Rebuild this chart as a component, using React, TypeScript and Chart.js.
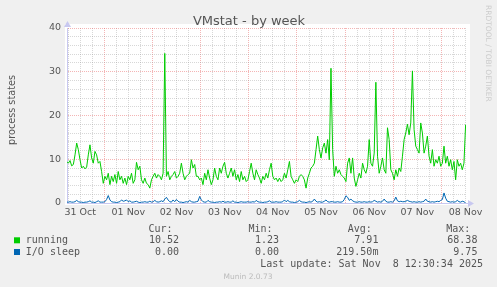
import React, { useEffect, useRef } from "react";
import { Chart, registerables } from "chart.js";

Chart.register(...registerables);

// Time axis: days after 31 Oct 00:00
const DAY_LABELS = ["31 Oct", "01 Nov", "02 Nov", "03 Nov", "04 Nov", "05 Nov", "06 Nov", "07 Nov", "08 Nov"];
const X_MIN_DAY = 0.225;
const X_MAX_DAY = 8.51;
const FIRST_SAMPLE_DAY = 0.21875;
const SAMPLE_MINUTES = 49.7;

const running = [
  9.5, 9.1, 9.7, 8.5, 8.8, 11.0, 13.7, 12.2, 9.9, 8.0,
  8.4, 7.8, 8.2, 11.0, 13.3, 10.3, 9.1, 11.8, 11.0, 9.1,
  9.5, 7.2, 4.5, 6.1, 5.3, 6.8, 4.2, 6.1, 4.9, 6.5,
  4.5, 7.2, 5.3, 6.1, 4.5, 5.7, 4.2, 6.1, 5.3, 6.8,
  4.5, 5.3, 9.3, 7.6, 8.4, 5.3, 4.5, 5.7, 4.5, 4.2,
  3.4, 5.3, 6.1, 6.8, 5.7, 6.5, 6.1, 5.3, 6.8, 34.2,
  6.1, 7.2, 5.3, 6.1, 6.5, 7.2, 5.7, 6.1, 6.8, 9.1,
  6.8, 5.3, 6.1, 6.5, 6.8, 9.9, 8.0, 8.8, 6.1,
  6.1, 5.3, 5.7, 4.2, 6.8, 5.3, 7.6, 5.7, 4.2, 5.3,
  8.0, 6.1, 5.3, 8.0, 6.8, 8.4, 9.3, 6.8, 5.7, 6.8,
  8.0, 6.1, 7.6, 5.3, 6.5, 4.9, 7.2, 5.3, 6.1, 4.9,
  5.3, 7.2, 9.1, 6.8, 5.3, 7.6, 6.5, 5.7, 4.5, 6.1,
  5.3, 6.8, 5.7, 7.6, 9.1, 6.1, 5.3, 5.7, 4.9, 5.7,
  4.9, 5.3, 6.8, 5.7, 7.6, 9.5, 6.1, 5.3, 4.5, 5.3,
  4.9, 6.1, 6.5, 6.1, 5.3, 3.4, 5.7, 6.8, 8.0, 8.4,
  9.1, 12.2, 15.3, 12.2, 10.3, 12.6, 13.7, 11.4, 14.5, 9.9,
  30.8,
  12.2, 6.1, 8.4, 6.8, 7.6, 6.5, 6.1, 5.7, 4.9, 9.1,
  10.3, 6.8, 10.3, 5.7, 3.8, 5.3, 6.8, 5.7, 9.1, 7.6,
  6.8, 8.4, 14.5, 9.1, 8.4, 11.4, 27.6, 10.7, 6.8, 8.4,
  10.3, 7.6, 6.8, 17.2, 14.5, 7.6, 6.8, 5.3, 7.6, 6.1,
  8.0, 7.2, 10.7, 14.5, 16.0, 18.0, 15.6, 18.3, 30.2, 16.8,
  13.0, 12.2, 11.4, 18.3, 16.0, 11.4, 13.0, 15.3, 10.7, 9.1,
  12.2, 8.4, 9.9, 9.1, 10.7, 8.4, 9.1, 13.0, 9.1, 10.7,
  8.4, 9.9, 7.6, 9.5, 5.3, 9.9, 8.4, 9.1, 7.6, 9.1,
  17.9,
];

const ioSleep = [
  0.2, 0.2, 0.3, 0.2, 0.2, 0.3, 0.6, 0.3, 0.2, 0.2,
  0.1, 0.2, 0.2, 0.3, 0.5, 0.2, 0.2, 0.1, 0.3, 0.5,
  0.2, 0.2, 0.2, 0.3, 0.8, 1.7, 0.7, 0.3, 0.2, 0.2,
  0.1, 0.2, 0.3, 0.7, 0.4, 0.5, 0.7, 0.3, 0.5, 0.2,
  0.2, 0.3, 0.4, 0.2, 0.1, 0.2, 0.2, 0.3, 0.2, 0.2,
  0.4, 0.2, 0.3, 0.6, 0.3, 0.2, 0.3, 0.5, 0.3, 0.9,
  1.3, 0.7, 0.3, 0.2, 0.7, 0.3, 0.8, 0.4, 0.2, 0.2,
  0.1, 0.2, 0.3, 0.2, 0.6, 0.3, 0.2, 0.2, 0.3,
  0.4, 1.5, 0.7, 0.3, 0.2, 0.2, 0.6, 0.3, 0.2, 0.2,
  0.1, 0.2, 0.2, 0.3, 0.2, 0.4, 0.2, 0.2, 0.3, 0.2,
  0.2, 0.5, 0.2, 0.2, 0.1, 0.2, 0.3, 0.2, 0.2, 0.2,
  0.3, 0.2, 0.2, 0.3, 0.2, 0.6, 0.3, 0.2, 0.2, 0.1,
  0.2, 0.2, 0.3, 0.5, 0.2, 0.2, 0.2, 0.3, 0.2, 0.2,
  0.2, 0.3, 0.7, 0.3, 0.6, 0.3, 0.2, 0.2, 0.1, 0.2,
  0.3, 0.6, 0.3, 0.2, 0.2, 0.1, 0.2, 0.3, 0.2, 0.4,
  0.9, 0.4, 0.2, 0.3, 0.2, 0.2, 0.4, 0.7, 0.3, 0.2,
  0.3,
  0.3, 0.2, 0.2, 0.3, 0.2, 0.2, 0.3, 0.8, 1.65, 1.3,
  0.6, 0.9, 0.5, 0.3, 0.2, 0.2, 0.3, 0.2, 0.2, 0.3,
  0.2, 0.2, 0.3, 0.2, 0.3, 0.6, 0.4, 0.2, 0.3, 0.2,
  0.4, 0.9, 0.4, 0.2, 0.2, 0.3, 0.2, 0.5, 1.35, 0.5,
  0.3, 0.4, 0.3, 0.3, 0.4, 0.6, 0.4, 0.3, 0.2, 0.3,
  0.2, 0.2, 0.3, 0.2, 0.3, 0.4, 0.9, 0.4, 0.3, 0.2,
  0.3, 0.2, 0.3, 0.4, 0.3, 0.6, 0.8, 2.3, 1.1, 0.4,
  0.3, 0.2, 0.3, 0.2, 0.3, 0.6, 0.3, 0.2, 0.4, 0.3,
  0.0,
];

const SERIES_NAMES = ["running", "I/O sleep"];
const SERIES_COLORS = ["#00cc00", "#0066b3"];
const LEGEND_HEADERS = ["Cur:", "Min:", "Avg:", "Max:"];
const CUR_VALUES = ["10.52", "0.00"];
const MIN_VALUES = ["1.23", "0.00"];
const AVG_VALUES = ["7.91", "219.50m"];
const MAX_VALUES = ["68.38", "9.75"];
const TITLE = "VMstat - by week";
const Y_TITLE = "process states";
const LAST_UPDATE = "Last update: Sat Nov  8 12:30:34 2025";
const VERSION = "Munin 2.0.73";
const SIDE_TEXT = "RRDTOOL / TOBI OETIKER";

const toPoints = (vals: number[]) =>
  vals.map((v, i) => ({ x: FIRST_SAMPLE_DAY + (i * SAMPLE_MINUTES) / 1440, y: v }));

const GRID_GREY = "rgba(150,150,150,0.38)";
const GRID_RED = "rgba(230,90,90,0.45)";
const AXIS_COLOR = "#c8c8f0";

const decorPlugin = {
  id: "decor",
  beforeDraw(chart: any) {
    const { ctx, chartArea: a } = chart;
    ctx.save();
    ctx.fillStyle = "#f0f0f0";
    ctx.fillRect(0, 0, chart.width, chart.height);
    ctx.fillStyle = "#ffffff";
    ctx.fillRect(a.left - 2, a.top - 4, a.right - a.left + 6, a.bottom - a.top + 6);
    ctx.restore();
  },
  afterDraw(chart: any) {
    const { ctx, chartArea: a } = chart;
    ctx.save();
    ctx.strokeStyle = AXIS_COLOR;
    ctx.fillStyle = AXIS_COLOR;
    ctx.lineWidth = 1;
    ctx.beginPath();
    ctx.moveTo(a.right, Math.round(a.bottom) + 0.5);
    ctx.lineTo(a.right + 3, Math.round(a.bottom) + 0.5);
    ctx.stroke();
    ctx.beginPath();
    ctx.moveTo(a.right + 2, a.bottom - 3);
    ctx.lineTo(a.right + 8, a.bottom + 0.5);
    ctx.lineTo(a.right + 2, a.bottom + 4);
    ctx.closePath();
    ctx.fill();
    ctx.beginPath();
    ctx.moveTo(a.left - 3, a.top - 1);
    ctx.lineTo(a.left + 0.5, a.top - 7);
    ctx.lineTo(a.left + 4, a.top - 1);
    ctx.closePath();
    ctx.fill();

    ctx.fillStyle = "#555555";
    ctx.font = '13px "DejaVu Sans"';
    ctx.textAlign = "center";
    ctx.textBaseline = "alphabetic";
    ctx.fillText(TITLE, 249, 24.5);

    ctx.save();
    ctx.translate(15, 110);
    ctx.rotate(-Math.PI / 2);
    ctx.font = '9.7px "DejaVu Sans"';
    ctx.textAlign = "center";
    ctx.textBaseline = "alphabetic";
    ctx.fillText(Y_TITLE, 0, 0);
    ctx.restore();

    ctx.save();
    ctx.translate(485.5, 5);
    ctx.rotate(Math.PI / 2);
    ctx.fillStyle = "#cccccc";
    ctx.font = '7.5px "DejaVu Sans"';
    ctx.textAlign = "left";
    ctx.textBaseline = "alphabetic";
    ctx.fillText(SIDE_TEXT, 0, 0);
    ctx.restore();

    ctx.font = '10px "DejaVu Sans Mono"';
    ctx.fillStyle = "#555555";
    ctx.textBaseline = "alphabetic";
    const headerX = [148.5, 248.5, 347.8, 446.2];
    const valueX = [179, 279, 378.4, 477.4];
    ctx.textAlign = "left";
    LEGEND_HEADERS.forEach((h, i) => ctx.fillText(h, headerX[i], 231.5));
    const rowsY = [243.3, 255];
    const cols = [CUR_VALUES, MIN_VALUES, AVG_VALUES, MAX_VALUES];
    SERIES_NAMES.forEach((name, r) => {
      ctx.fillStyle = SERIES_COLORS[r];
      ctx.fillRect(14, rowsY[r] - 6, 6, 6);
      ctx.fillStyle = "#555555";
      ctx.textAlign = "left";
      ctx.fillText(name, 25.8, rowsY[r]);
      ctx.textAlign = "right";
      cols.forEach((col, c) => ctx.fillText(col[r], valueX[c], rowsY[r]));
    });
    ctx.textAlign = "right";
    ctx.fillText(LAST_UPDATE, 483, 266.7);

    ctx.fillStyle = "#bbbbbb";
    ctx.font = '7.5px "DejaVu Sans"';
    ctx.textAlign = "center";
    ctx.fillText(VERSION, 248, 279.3);
    ctx.restore();
  },
};

export default function App() {
  const ref = useRef<HTMLCanvasElement | null>(null);
  useEffect(() => {
    if (!ref.current) return;
    const chart = new Chart(ref.current, {
      type: "line",
      data: {
        datasets: [
          {
            label: SERIES_NAMES[1],
            data: toPoints(ioSleep),
            borderColor: SERIES_COLORS[1],
            borderWidth: 1,
            pointRadius: 0,
            tension: 0,
            order: 0,
          },
          {
            label: SERIES_NAMES[0],
            data: toPoints(running),
            borderColor: SERIES_COLORS[0],
            borderWidth: 1,
            pointRadius: 0,
            tension: 0,
            order: 1,
          },
        ],
      },
      options: {
        animation: false,
        responsive: false,
        devicePixelRatio: 1,
        layout: { padding: { left: 0, top: 28, right: 31, bottom: 64 } },
        plugins: { legend: { display: false }, title: { display: false }, tooltip: { enabled: false } },
        scales: {
          x: {
            type: "linear",
            min: X_MIN_DAY,
            max: X_MAX_DAY,
            afterBuildTicks: (scale: any) => {
              const t = [];
              for (let q = 1; q <= 34; q++) t.push({ value: q * 0.25 });
              scale.ticks = t;
            },
            afterFit: (scale: any) => {
              scale.height = 20;
            },
            ticks: {
              autoSkip: false,
              maxRotation: 0,
              padding: 4,
              color: "#555555",
              font: { family: "DejaVu Sans", size: 9.5 },
              callback: (v: any) => {
                const n = Number(v);
                return Math.abs((n % 1) - 0.5) < 1e-6 ? DAY_LABELS[Math.floor(n)] : "";
              },
            },
            grid: {
              drawTicks: false,
              lineWidth: 1,
              color: (c: any) => (c.tick && c.tick.value % 1 === 0 ? GRID_RED : GRID_GREY),
            },
            border: { color: AXIS_COLOR, width: 1, dash: [1, 1] },
          },
          y: {
            min: 0,
            max: 40,
            afterFit: (scale: any) => {
              scale.width = 67;
            },
            ticks: {
              stepSize: 2,
              autoSkip: false,
              padding: 6,
              color: "#555555",
              font: { family: "DejaVu Sans", size: 9.5 },
              callback: (v: any) => (Number(v) % 10 === 0 ? String(v) : ""),
            },
            grid: {
              drawTicks: false,
              lineWidth: 1,
              color: (c: any) => (c.tick && c.tick.value % 10 === 0 ? GRID_RED : GRID_GREY),
            },
            border: { color: AXIS_COLOR, width: 1, dash: [1, 1] },
          },
        },
      },
      plugins: [decorPlugin],
    });
    return () => chart.destroy();
  }, []);
  return (
    <div style={{ position: "fixed", left: 0, top: 0, width: 497, height: 287 }}>
      <canvas ref={ref} width={497} height={287} style={{ display: "block" }} />
    </div>
  );
}
